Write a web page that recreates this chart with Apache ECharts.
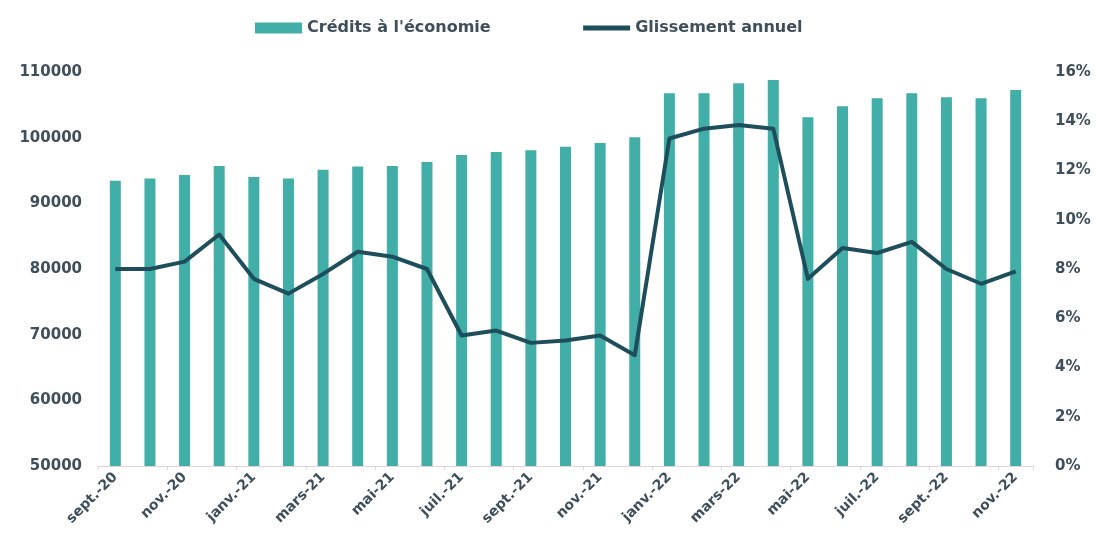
<!DOCTYPE html>
<html>
<head>
<meta charset="utf-8">
<script src="https://cdn.jsdelivr.net/npm/echarts@6/dist/echarts.min.js"></script>
<style>
  html, body { margin: 0; padding: 0; background: #ffffff; }
  #chart { width: 1097px; height: 550px; }
</style>
</head>
<body>
<div id="chart"></div>
<script>
// Monthly categories, Sept 2020 to Nov 2022
const months = [
  'sept.-20', 'oct.-20', 'nov.-20', 'déc.-20',
  'janv.-21', 'févr.-21', 'mars-21', 'avr.-21', 'mai-21', 'juin-21',
  'juil.-21', 'août-21', 'sept.-21', 'oct.-21', 'nov.-21', 'déc.-21',
  'janv.-22', 'févr.-22', 'mars-22', 'avr.-22', 'mai-22', 'juin-22',
  'juil.-22', 'août-22', 'sept.-22', 'oct.-22', 'nov.-22'
];

// Outstanding credit to the economy (left axis)
const credits = [
  93450, 93800, 94300, 95700,
  94000, 93800, 95100, 95600, 95700, 96300,
  97350, 97800, 98100, 98600, 99200, 100050,
  106750, 106750, 108270, 108780, 103100, 104800,
  106000, 106750, 106150, 106000, 107250
];

// Year-on-year change, in percent (right axis)
const glissement = [
  8.0, 8.0, 8.3, 9.4,
  7.6, 7.0, 7.8, 8.7, 8.5, 8.0,
  5.3, 5.5, 5.0, 5.1, 5.3, 4.5,
  13.3, 13.7, 13.85, 13.7, 7.6, 8.85,
  8.65, 9.1, 8.0, 7.4, 7.9
];

const leftTicks = { min: 50000, max: 110000, step: 10000 };
const rightTicks = { min: 0, max: 16, step: 2 };

const textColor = '#3e4f5b';
const font = 'DejaVu Sans';
const barColor = '#42aea8';
const lineColor = '#1e4e5b';

const chart = echarts.init(document.getElementById('chart'), null, { renderer: 'canvas' });

chart.setOption({
  animation: false,
  backgroundColor: '#ffffff',
  legend: {
    left: 250,
    top: 15,
    itemWidth: 47,
    itemHeight: 11,
    itemGap: 90,
    textStyle: { color: textColor, fontFamily: font, fontSize: 16, fontWeight: 'bold' },
    data: [
      { name: "Crédits à l'économie", icon: 'rect' },
      {
        name: 'Glissement annuel',
        itemStyle: { opacity: 0 },
        lineStyle: { color: lineColor, width: 5 }
      }
    ]
  },
  grid: { left: 98, right: 64, top: 72, bottom: 84 },
  xAxis: {
    type: 'category',
    data: months,
    boundaryGap: true,
    axisLine: { show: true, lineStyle: { color: '#e3d3d8', width: 1 } },
    axisTick: { show: true, interval: 1, length: 4, lineStyle: { color: '#e3d3d8' } },
    axisLabel: {
      interval: 1,
      rotate: 45,
      margin: 9,
      color: textColor,
      fontFamily: font,
      fontSize: 14,
      fontWeight: 'bold'
    }
  },
  yAxis: [
    {
      type: 'value',
      min: leftTicks.min,
      max: leftTicks.max,
      interval: leftTicks.step,
      position: 'left',
      axisLine: { show: false },
      axisTick: { show: false },
      splitLine: { show: false },
      axisLabel: {
        margin: 16,
        formatter: v => String(v),
        color: textColor,
        fontFamily: font,
        fontSize: 15,
        fontWeight: 'bold'
      }
    },
    {
      type: 'value',
      min: rightTicks.min,
      max: rightTicks.max,
      interval: rightTicks.step,
      position: 'right',
      axisLine: { show: false },
      axisTick: { show: false },
      splitLine: { show: false },
      axisLabel: {
        margin: 22,
        formatter: '{value}%',
        color: textColor,
        fontFamily: font,
        fontSize: 15,
        fontWeight: 'bold'
      }
    }
  ],
  series: [
    {
      name: "Crédits à l'économie",
      type: 'bar',
      yAxisIndex: 0,
      data: credits,
      barWidth: 11,
      itemStyle: { color: barColor }
    },
    {
      name: 'Glissement annuel',
      type: 'line',
      yAxisIndex: 1,
      data: glissement,
      symbol: 'none',
      lineStyle: { color: lineColor, width: 4, join: 'round' },
      itemStyle: { color: lineColor }
    }
  ]
});
</script>
</body>
</html>
